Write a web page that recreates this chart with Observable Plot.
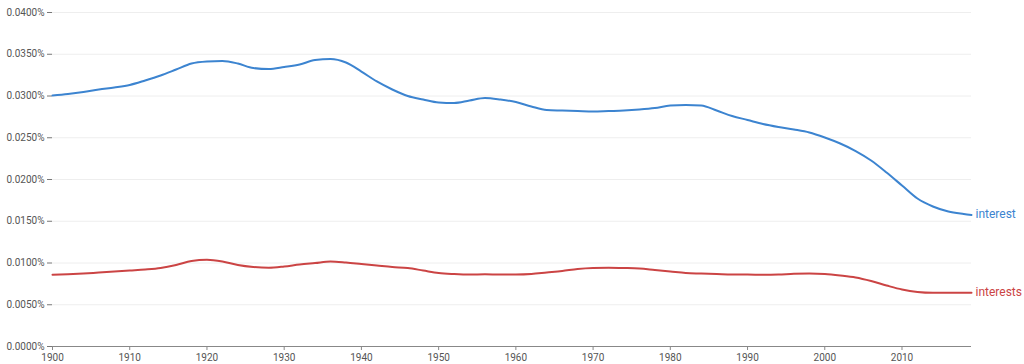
<!DOCTYPE html>
<html>
<head>
<meta charset="utf-8">
<script src="https://cdn.jsdelivr.net/npm/d3@7"></script>
<script src="https://cdn.jsdelivr.net/npm/@observablehq/plot@0.6"></script>
<style>
  html, body { margin: 0; padding: 0; background: #fff; }
  #chart { width: 1024px; height: 364px; }
  svg { font-family: Roboto, "Noto Sans", sans-serif; }
</style>
</head>
<body>
<div id="chart"></div>
<script>
const years = [1900,1902,1904,1906,1908,1910,1912,1914,1916,1918,1920,1922,1924,1926,1928,1930,1932,1934,1936,1938,1940,1942,1944,1946,1948,1950,1952,1954,1956,1958,1960,1962,1964,1966,1968,1970,1972,1974,1976,1978,1980,1982,1984,1986,1988,1990,1992,1994,1996,1998,2000,2002,2004,2006,2008,2010,2012,2014,2016,2018,2019];

const interest = [0.03006,0.03024,0.03048,0.03078,0.03102,0.03132,0.03186,0.03246,0.03317,0.03389,0.03413,0.03419,0.03389,0.03335,0.03323,0.03347,0.03377,0.03431,0.03443,0.03401,0.03293,0.03174,0.03078,0.03000,0.02958,0.02922,0.02916,0.02946,0.02976,0.02958,0.02928,0.02874,0.02832,0.02826,0.02820,0.02814,0.02820,0.02826,0.02838,0.02856,0.02886,0.02892,0.02886,0.02826,0.02760,0.02713,0.02665,0.02629,0.02599,0.02563,0.02503,0.02431,0.02341,0.02228,0.02084,0.01928,0.01772,0.01677,0.01617,0.01587,0.01575];

const interests = [0.00859,0.00865,0.00874,0.00886,0.00898,0.00910,0.00922,0.00940,0.00976,0.01024,0.01039,0.01018,0.00976,0.00952,0.00943,0.00958,0.00982,0.01000,0.01018,0.01006,0.00988,0.00970,0.00952,0.00940,0.00910,0.00880,0.00868,0.00862,0.00865,0.00862,0.00862,0.00868,0.00886,0.00904,0.00928,0.00940,0.00943,0.00940,0.00934,0.00916,0.00898,0.00880,0.00874,0.00868,0.00862,0.00862,0.00859,0.00862,0.00871,0.00874,0.00868,0.00850,0.00826,0.00784,0.00731,0.00683,0.00653,0.00643,0.00643,0.00643,0.00643];

const seriesNames = ["interest", "interests"];
const seriesColors = ["#3c84d0", "#cb4444"];
const yTicks = [0, 0.005, 0.01, 0.015, 0.02, 0.025, 0.03, 0.035, 0.04];
const xTicks = [1900,1910,1920,1930,1940,1950,1960,1970,1980,1990,2000,2010];

const rows = [];
const valueSets = [interest, interests];
seriesNames.forEach((name, s) => {
  years.forEach((yr, i) => rows.push({series: name, year: yr, value: valueSets[s][i]}));
});
const lastRows = seriesNames.map((name, s) => ({series: name, year: years[years.length - 1], value: valueSets[s][years.length - 1]}));

const chart = Plot.plot({
  width: 1024,
  height: 364,
  marginLeft: 52,
  marginRight: 53,
  marginTop: 12,
  marginBottom: 18,
  style: {fontFamily: "Roboto, 'Noto Sans', sans-serif", fontSize: "10px", color: "#555", background: "#fff"},
  x: {domain: [1900, 2019], ticks: xTicks, tickFormat: d => String(d), label: null},
  y: {domain: [0, 0.04], ticks: yTicks, tickFormat: d => d.toFixed(4) + "%", label: null},
  color: {domain: seriesNames, range: seriesColors},
  marks: [
    Plot.gridY(yTicks, {stroke: "#eeeeee", strokeOpacity: 1, strokeWidth: 1}),
    Plot.axisY({ticks: yTicks, tickFormat: d => d.toFixed(4) + "%", tickSize: 5, tickPadding: 3, stroke: "#777", fill: "#555", fontSize: 10, label: null}),
    Plot.axisX({ticks: xTicks, tickFormat: d => String(d), tickSize: 4, tickPadding: 3, stroke: "#888", fill: "#555", fontSize: 10, label: null}),
    Plot.ruleY([0], {stroke: "#888", strokeWidth: 1.2}),
    Plot.line(rows, {x: "year", y: "value", z: "series", stroke: "series", strokeWidth: 2, curve: "monotone-x"}),
    Plot.text(lastRows, {x: "year", y: "value", text: "series", fill: "series", textAnchor: "start", dx: 4, dy: -1, fontSize: 12})
  ]
});
document.getElementById("chart").appendChild(chart);
</script>
</body>
</html>
